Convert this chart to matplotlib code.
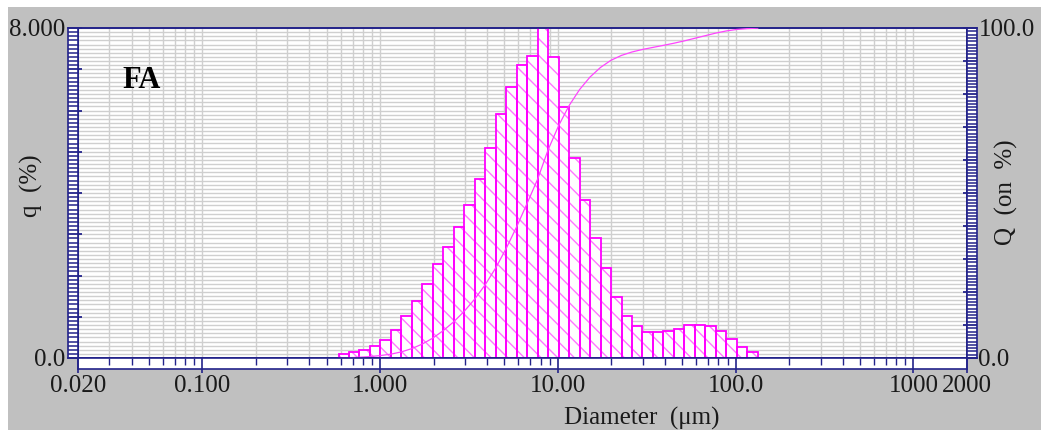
import numpy as np
import matplotlib
matplotlib.use("Agg")
import matplotlib.pyplot as plt
from matplotlib.patches import Rectangle
from matplotlib.ticker import FixedLocator, MultipleLocator, LogLocator, FuncFormatter, NullFormatter

# channel edges (um) of the size classes that hold data
EDGES = [0.584, 0.669, 0.766, 0.877, 1.005, 1.151, 1.318, 1.510, 1.729, 1.981,
         2.269, 2.599, 2.976, 3.409, 3.905, 4.472, 5.122, 5.867, 6.720, 7.697,
         8.816, 10.097, 11.565, 13.246, 15.172, 17.377, 19.904, 22.797, 26.111, 29.907,
         34.255, 39.234, 44.938, 51.471, 58.953, 67.523, 77.339, 88.583, 101.460, 116.210,
         133.103]

# frequency q (%) per channel
Q_FREQ = [0.10, 0.15, 0.19, 0.30, 0.43, 0.68, 1.01, 1.38, 1.80, 2.28,
          2.68, 3.17, 3.71, 4.34, 5.09, 5.91, 6.58, 7.10, 7.32, 8.90,
          7.29, 6.08, 4.85, 3.82, 2.90, 2.17, 1.47, 1.03, 0.77, 0.62,
          0.62, 0.65, 0.71, 0.79, 0.79, 0.78, 0.65, 0.45, 0.26, 0.14]

X_TICKS = [0.02, 0.1, 1, 10, 100, 1000, 2000]
X_LABELS = ["0.020", "0.100", "1.000", "10.00", "100.0", "1000", "2000"]

W, H = 1041, 432
NAVY = "#23238a"
MAGENTA = "#ff00ff"
HATCH = "#ff77ff"
GRID = "#cfcfcf"
BG = "#c0c0c0"
TXT = "#1a1a1a"
FS = 18
SERIF = ["Liberation Serif", "DejaVu Serif"]

plt.rcParams["hatch.linewidth"] = 1.0
plt.rcParams["font.family"] = SERIF


def px_rect(x0, y0, x1, y1):
    return [x0 / W, 1 - y1 / H, (x1 - x0) / W, (y1 - y0) / H]


def navy_spines(ax):
    for s in ax.spines.values():
        s.set_color(NAVY)
        s.set_linewidth(1.2)


fig = plt.figure(figsize=(W / 100, H / 100), dpi=100, facecolor="white")
fig.patches.append(Rectangle((8 / W, 1 - 430 / H), 1 - 8 / W, (430 - 7) / H,
                             transform=fig.transFigure, facecolor=BG,
                             edgecolor="none", zorder=-5))

# main plot area
ax = fig.add_axes(px_rect(78, 28, 967, 358))
ax.set_xscale("log")
ax.set_xlim(0.02, 2000)
ax.set_ylim(0, 8)
ax.xaxis.set_major_locator(LogLocator(base=10))
ax.xaxis.set_minor_locator(LogLocator(base=10, subs=np.arange(2, 10)))
ax.yaxis.set_major_locator(MultipleLocator(1))
ax.yaxis.set_minor_locator(MultipleLocator(0.1))
ax.grid(True, which="both", color=GRID, linewidth=1.0)
ax.set_axisbelow(True)
ax.tick_params(which="both", length=0, labelbottom=False, labelleft=False)
ax.xaxis.set_minor_formatter(NullFormatter())
navy_spines(ax)

edges = np.array(EDGES)
q = np.array(Q_FREQ)
lefts = edges[:-1]
widths = np.diff(edges)

# hatched fill, then outline
ax.bar(lefts, q, width=widths, align="edge", facecolor="white",
       edgecolor=HATCH, linewidth=0, hatch="\\\\", zorder=2)
ax.bar(lefts, q, width=widths, align="edge", facecolor="none",
       edgecolor=MAGENTA, linewidth=1.3, zorder=3)

# cumulative curve on the right scale
ax2 = ax.twinx()
ax2.set_ylim(0, 100)
ax2.plot(edges, np.concatenate([[0], np.cumsum(q)]), color="#ff44ff",
         linewidth=0.9, zorder=4)
ax2.set_yticks([])
navy_spines(ax2)

fig.text(122 / W, 1 - 80 / H, "FA", fontsize=22, fontweight="bold",
         va="center", ha="left")

# left tick band
axl = fig.add_axes(px_rect(68, 28, 78, 358))
axl.set_ylim(0, 8)
axl.set_xticks([])
axl.set_yticks(np.arange(0, 9), minor=False)
axl.set_yticks(np.arange(0, 80.5) / 10, minor=True)
axl.yaxis.set_major_formatter(FuncFormatter(
    lambda v, p: "8.000" if abs(v - 8) < 1e-6 else ("0.0" if abs(v) < 1e-6 else "")))
axl.tick_params(axis="y", which="major", direction="in", length=10, width=1.3,
                left=True, right=False, color=NAVY, pad=2, labelsize=FS,
                labelcolor=TXT)
axl.tick_params(axis="y", which="minor", direction="in", length=7, width=1.1,
                left=True, right=False, color=NAVY)
navy_spines(axl)

# right tick band
axr = fig.add_axes(px_rect(967, 28, 977, 358))
axr.set_ylim(0, 100)
axr.set_xticks([])
axr.yaxis.tick_right()
axr.set_yticks(np.arange(0, 101, 10), minor=False)
axr.set_yticks(np.arange(0, 101), minor=True)
axr.yaxis.set_major_formatter(FuncFormatter(
    lambda v, p: "100.0" if abs(v - 100) < 1e-6 else ("0.0" if abs(v) < 1e-6 else "")))
axr.tick_params(axis="y", which="major", direction="in", length=10, width=1.3,
                left=False, right=True, color=NAVY, pad=1, labelsize=FS,
                labelcolor=TXT)
axr.tick_params(axis="y", which="minor", direction="in", length=7, width=1.1,
                left=False, right=True, color=NAVY)
navy_spines(axr)

# bottom tick band
axb = fig.add_axes(px_rect(78, 358, 967, 369))
axb.set_xscale("log")
axb.set_xlim(0.02, 2000)
axb.set_yticks([])
axb.xaxis.set_major_locator(FixedLocator(X_TICKS))
axb.xaxis.set_major_formatter(FuncFormatter(lambda v, p: X_LABELS[p] if p is not None and p < len(X_LABELS) else ""))
axb.xaxis.set_minor_locator(LogLocator(base=10, subs=np.arange(2, 10)))
axb.xaxis.set_minor_formatter(NullFormatter())
axb.tick_params(axis="x", which="both", top=True, bottom=False,
                labeltop=False, labelbottom=True, direction="in", color=NAVY)
axb.tick_params(axis="x", which="major", length=11, width=1.2, pad=4,
                labelsize=FS, labelcolor=TXT)
axb.tick_params(axis="x", which="minor", length=5, width=1.0)
navy_spines(axb)

fig.text(642 / W, 1 - 418 / H, "Diameter  (\u03bcm)", ha="center", va="center",
         fontsize=FS, color=TXT)
fig.text(31 / W, 1 - 186 / H, "q  (%)", ha="center", va="center",
         rotation=90, fontsize=FS, color=TXT)
fig.text(1006 / W, 1 - 192 / H, "Q  (on  %)", ha="center", va="center",
         rotation=90, fontsize=FS, color=TXT)

fig.savefig("out.png", dpi=100, facecolor=fig.get_facecolor())
